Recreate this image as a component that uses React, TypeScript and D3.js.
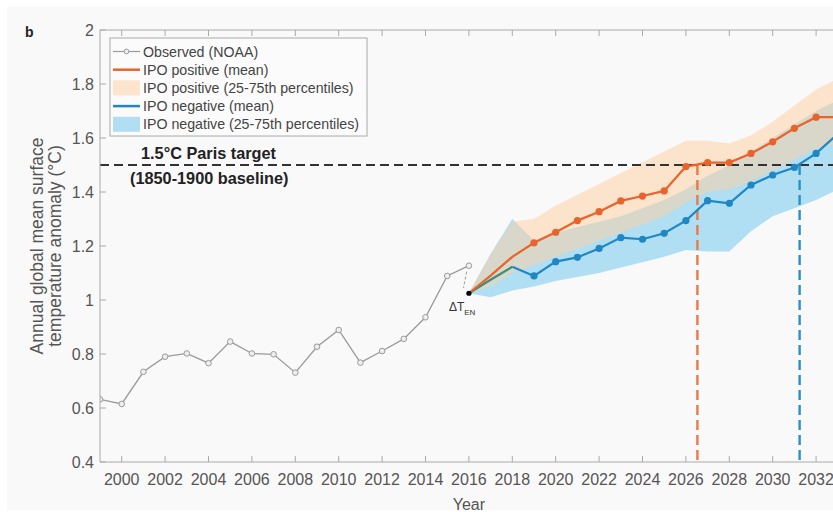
import * as d3 from "d3";

// Observed NOAA anomaly (°C), 1999–2016
const obsYears = d3.range(1999, 2017);
const obsValues = [0.632, 0.615, 0.734, 0.79, 0.802, 0.766, 0.846, 0.802, 0.799, 0.731, 0.827, 0.889, 0.768, 0.811, 0.856, 0.936, 1.089, 1.127];

// Projections, 2016–2033 (start from ΔT_EN adjusted value)
const projYears = d3.range(2016, 2034);
const posMean = [1.025, 1.09, 1.16, 1.212, 1.251, 1.294, 1.327, 1.367, 1.385, 1.404, 1.494, 1.509, 1.509, 1.543, 1.586, 1.636, 1.677, 1.677];
const negMean = [1.025, 1.075, 1.123, 1.089, 1.142, 1.158, 1.191, 1.231, 1.225, 1.247, 1.294, 1.368, 1.358, 1.426, 1.463, 1.491, 1.543, 1.615];
const posUpper = [1.025, 1.17, 1.29, 1.3, 1.35, 1.39, 1.43, 1.47, 1.51, 1.55, 1.59, 1.59, 1.58, 1.61, 1.66, 1.72, 1.78, 1.82];
const posLower = [1.025, 1.05, 1.1, 1.13, 1.16, 1.19, 1.22, 1.25, 1.28, 1.31, 1.36, 1.4, 1.41, 1.44, 1.48, 1.52, 1.56, 1.58];
const negUpper = [1.025, 1.17, 1.3, 1.22, 1.25, 1.27, 1.29, 1.31, 1.34, 1.37, 1.41, 1.46, 1.5, 1.55, 1.6, 1.65, 1.7, 1.74];
const negLower = [1.025, 1.01, 1.035, 1.05, 1.07, 1.085, 1.1, 1.12, 1.14, 1.16, 1.185, 1.18, 1.18, 1.255, 1.31, 1.34, 1.37, 1.41];

const TARGET = 1.5;
const posCross = 2026.53;
const negCross = 2031.24;
const markerFrom = 2019;

const xTicks = d3.range(2000, 2034, 2);
const yTicks = [0.4, 0.6, 0.8, 1, 1.2, 1.4, 1.6, 1.8, 2];

const W = 833;
const H = 512;
const PAD = { left: 100, top: 30, bottom: 462 };

const ORANGE = "#e8642d";
const BLUE = "#1f88c4";
const GREY = "#9a9a9a";
const TEXT = "#555";
const FONT = "'Liberation Sans', Arial, sans-serif";

export default function App() {
  const x = d3.scaleLinear().domain([1999, 2033]).range([PAD.left, PAD.left + 34 * 21.7]);
  const y = d3.scaleLinear().domain([0.4, 2]).range([PAD.bottom, PAD.top]);
  const right = x(2033);

  const line = d3
    .line<[number, number]>()
    .x((d) => x(d[0]))
    .y((d) => y(d[1]));
  const band = (lo: number[], hi: number[]) =>
    d3
      .area<number>()
      .x((yr) => x(yr))
      .y0((_, i) => y(lo[i]))
      .y1((_, i) => y(hi[i]))(projYears) ?? "";

  const obsPts = obsYears.map((yr, i) => [yr, obsValues[i]] as [number, number]);
  const posPts = projYears.map((yr, i) => [yr, posMean[i]] as [number, number]);
  const negPts = projYears.map((yr, i) => [yr, negMean[i]] as [number, number]);
  const startVal = posMean[0];

  const legendRows = [
    { label: "Observed (NOAA)", kind: "obs" },
    { label: "IPO positive (mean)", kind: "line", color: ORANGE },
    { label: "IPO positive (25-75th percentiles)", kind: "patch", color: "rgba(255,208,160,0.5)" },
    { label: "IPO negative (mean)", kind: "line", color: BLUE },
    { label: "IPO negative (25-75th percentiles)", kind: "patch", color: "rgba(126,205,238,0.6)" },
  ];

  return (
    <svg
      width={W}
      height={H}
      style={{ position: "fixed", left: 0, top: 0, background: "#fff" }}
      fontFamily={FONT}
    >
      <defs>
        <clipPath id="plot">
          <rect x={PAD.left} y={PAD.top} width={right - PAD.left} height={PAD.bottom - PAD.top} />
        </clipPath>
      </defs>
      <rect x={7} y={7} width={W - 7} height={H - 9} fill="#f9f9f9" />
      <text x={25} y={37} fontSize={14} fontWeight="bold" fill="#222">b</text>

      {/* bands */}
      <g clipPath="url(#plot)">
        <path d={band(negLower, negUpper)} fill="rgb(126,205,238)" fillOpacity={0.6} />
        <path d={band(posLower, posUpper)} fill="rgb(255,208,160)" fillOpacity={0.5} />

        {/* target line */}
        <line x1={PAD.left} x2={right} y1={y(TARGET)} y2={y(TARGET)} stroke="#333" strokeWidth={1.8} strokeDasharray="9 5" />

        {/* crossing verticals */}
        <line x1={x(posCross)} x2={x(posCross)} y1={y(TARGET)} y2={PAD.bottom} stroke="#ea7a45" strokeWidth={2.4} strokeDasharray="10 5" />
        <line x1={x(negCross)} x2={x(negCross)} y1={y(TARGET)} y2={PAD.bottom} stroke="#2a8fc4" strokeWidth={2.4} strokeDasharray="10 5" />

        {/* observed */}
        <path d={line(obsPts) ?? ""} fill="none" stroke={GREY} strokeWidth={1.3} />
        {obsPts.map(([yr, v]) => (
          <circle key={yr} cx={x(yr)} cy={y(v)} r={2.8} fill="#eee" stroke={GREY} strokeWidth={1} />
        ))}
        <line x1={x(2015.9)} y1={y(1.105)} x2={x(2015.75)} y2={y(1.045)} stroke={GREY} strokeWidth={1} strokeDasharray="3 2" />

        {/* means */}
        <path d={line(negPts.slice(0, 3)) ?? ""} fill="none" stroke="#3a8f7c" strokeWidth={2.2} />
        <path d={line(negPts.slice(2)) ?? ""} fill="none" stroke={BLUE} strokeWidth={2.2} />
        {negPts.filter(([yr]) => yr >= markerFrom).map(([yr, v]) => (
          <circle key={yr} cx={x(yr)} cy={y(v)} r={3.6} fill={BLUE} />
        ))}
        <path d={line(posPts) ?? ""} fill="none" stroke={ORANGE} strokeWidth={2.2} />
        {posPts.filter(([yr]) => yr >= markerFrom).map(([yr, v]) => (
          <circle key={yr} cx={x(yr)} cy={y(v)} r={3.6} fill={ORANGE} />
        ))}
        <circle cx={x(2016)} cy={y(startVal)} r={2.6} fill="#000" />
      </g>

      {/* ΔT_EN */}
      <text x={x(2016) - 20} y={y(startVal) + 18} fontSize={12} fill="#333">
        ΔT
        <tspan fontSize={8} dy={4}>EN</tspan>
      </text>

      {/* axes */}
      <g stroke="#aaa" strokeWidth={1} fill="none">
        <line x1={PAD.left} x2={PAD.left} y1={PAD.top} y2={PAD.bottom} />
        <line x1={PAD.left} x2={right} y1={PAD.bottom} y2={PAD.bottom} />
        <line x1={PAD.left} x2={right} y1={PAD.top} y2={PAD.top} />
        {xTicks.map((t) => (
          <g key={t}>
            <line x1={x(t)} x2={x(t)} y1={PAD.bottom} y2={PAD.bottom - 6} />
            <line x1={x(t)} x2={x(t)} y1={PAD.top} y2={PAD.top + 6} />
          </g>
        ))}
        {yTicks.map((t) => (
          <line key={t} x1={PAD.left} x2={PAD.left + 6} y1={y(t)} y2={y(t)} />
        ))}
      </g>
      <g fontSize={16} fill={TEXT}>
        {xTicks.map((t) => (
          <text key={t} x={x(t)} y={485} textAnchor="middle">{t}</text>
        ))}
        {yTicks.map((t) => (
          <text key={t} x={PAD.left - 6} y={y(t) + 5.5} textAnchor="end">{d3.format("~g")(t)}</text>
        ))}
        <text x={x(2016)} y={510} textAnchor="middle">Year</text>
        <text transform={`translate(43, ${y(1.2)}) rotate(-90)`} textAnchor="middle" fontSize={17.5}>
          Annual global mean surface
        </text>
        <text transform={`translate(61, ${y(1.2)}) rotate(-90)`} textAnchor="middle" fontSize={17.5}>
          temperature anomaly (°C)
        </text>
      </g>

      {/* target labels */}
      <g fontSize={16.3} fontWeight="bold" fill="#222">
        <text x={141} y={y(TARGET) - 6}>1.5°C Paris target</text>
        <text x={130} y={y(TARGET) + 19}>(1850-1900 baseline)</text>
      </g>

      {/* legend */}
      <g>
        <rect x={110} y={38} width={257} height={98} fill="#fbfbfb" stroke="#aaa" strokeWidth={1} />
        {legendRows.map((row, i) => {
          const cy = 51.5 + i * 18.2;
          return (
            <g key={row.label}>
              {row.kind === "obs" && (
                <>
                  <line x1={113} x2={140} y1={cy} y2={cy} stroke={GREY} strokeWidth={1.2} />
                  <circle cx={126.5} cy={cy} r={2.4} fill="#eee" stroke={GREY} strokeWidth={1} />
                </>
              )}
              {row.kind === "line" && <line x1={113} x2={140} y1={cy} y2={cy} stroke={row.color} strokeWidth={2.5} />}
              {row.kind === "patch" && <rect x={113} y={cy - 7.5} width={27} height={15} fill={row.color} />}
              <text x={143} y={cy + 5} fontSize={14.2} fill="#444">{row.label}</text>
            </g>
          );
        })}
      </g>
    </svg>
  );
}
